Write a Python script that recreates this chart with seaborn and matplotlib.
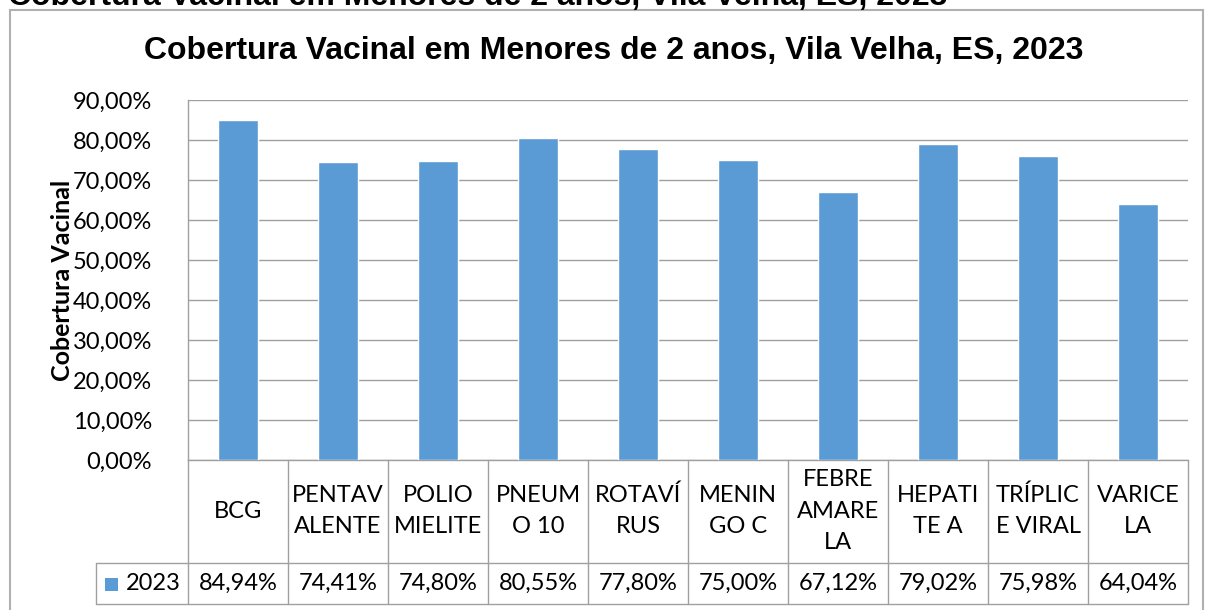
import matplotlib
matplotlib.use("Agg")
import matplotlib.pyplot as plt
import matplotlib.transforms as mtransforms
from matplotlib.patches import Rectangle
from matplotlib.lines import Line2D
import pandas as pd
import seaborn as sns

# data
vacinas = ["BCG", "PENTAV\nALENTE", "POLIO\nMIELITE", "PNEUM\nO 10", "ROTAVÍ\nRUS",
           "MENIN\nGO C", "FEBRE\nAMARE\nLA", "HEPATI\nTE A", "TRÍPLIC\nE VIRAL", "VARICE\nLA"]
cobertura = [84.94, 74.41, 74.80, 80.55, 77.80, 75.00, 67.12, 79.02, 75.98, 64.04]
serie = "2023"
y_ticks = [0, 10, 20, 30, 40, 50, 60, 70, 80, 90]
titulo = "Cobertura Vacinal em Menores de 2 anos, Vila Velha, ES, 2023"
y_label = "Cobertura Vacinal"

W, H = 1205, 610
def fx(px):
    return px / W
def fy(py):
    return 1 - py / H

def pct(v):
    return f"{v:.2f}%".replace(".", ",")

sns.set_theme(style="white")
plt.rcParams["font.family"] = ["Lato", "DejaVu Sans"]
plt.rcParams["text.color"] = "black"
plt.rcParams["axes.labelcolor"] = "black"
plt.rcParams["ytick.color"] = "black"

bar_color = "#5B9BD5"
line_color = "#A0A0A0"
fs = 17

fig = plt.figure(figsize=(W / 100, H / 100), dpi=100)
fig.patch.set_facecolor("white")

# outer chart border
fig.add_artist(Rectangle((fx(10), fy(615)), fx(1203) - fx(10), fy(10) - fy(615),
                         transform=fig.transFigure, fill=False, edgecolor="#B0B0B0", lw=1.5))

# title cut off at the top of the picture
fig.text(fx(8), fy(5), titulo, fontsize=23, fontweight="bold",
         family=["Liberation Sans", "DejaVu Sans"], ha="left", va="baseline")

fig.text(fx(614), fy(51), titulo, fontsize=23, fontweight="bold",
         family=["Liberation Sans", "DejaVu Sans"], ha="center", va="center")

ax = fig.add_axes([fx(188), fy(460), fx(1188) - fx(188), fy(100) - fy(460)])
df = pd.DataFrame({"vacina": vacinas, "cobertura": cobertura})
sns.barplot(data=df, x="vacina", y="cobertura", color=bar_color, saturation=1,
            width=0.4, ax=ax, zorder=3)

ax.set_ylim(0, 90)
ax.set_xlim(-0.5, len(vacinas) - 0.5)
ax.set_yticks(y_ticks)
ax.set_yticklabels([pct(t) for t in y_ticks], fontsize=fs)
ax.set_xticks([])
ax.set_xlabel("")
ax.set_ylabel(y_label, fontsize=18, fontweight="bold")
ax.yaxis.set_label_coords(-0.114, 0.5)
ax.tick_params(axis="y", length=0, pad=26)
ax.grid(axis="y", color=line_color, lw=1, zorder=0)
ax.set_axisbelow(True)
for side in ["top", "right"]:
    ax.spines[side].set_visible(False)
for side in ["left", "bottom"]:
    ax.spines[side].set_color(line_color)
    ax.spines[side].set_linewidth(1)

# data table below the axis
tr = mtransforms.blended_transform_factory(ax.transData, fig.transFigure)
n = len(vacinas)
left_x = -1.42
for i in range(n + 1):
    fig.add_artist(Line2D([i - 0.5, i - 0.5], [fy(460), fy(604)], transform=tr,
                          color=line_color, lw=1))
fig.add_artist(Line2D([left_x, left_x], [fy(563), fy(604)], transform=tr, color=line_color, lw=1))
for yy in [563, 604]:
    fig.add_artist(Line2D([left_x, n - 0.5], [fy(yy), fy(yy)], transform=tr,
                          color=line_color, lw=1))

for i, (nome, v) in enumerate(zip(vacinas, cobertura)):
    fig.text(i, fy(511), nome, transform=tr, ha="center", va="center",
             fontsize=fs, linespacing=1.6)
    fig.text(i, fy(583), pct(v), transform=tr, ha="center", va="center", fontsize=fs)

fig.add_artist(Rectangle((fx(105), fy(591)), fx(13), fy(578) - fy(591),
                         transform=fig.transFigure, color=bar_color, lw=0))
fig.text(fx(126), fy(583), serie, ha="left", va="center", fontsize=fs)

fig.savefig("out.png", dpi=100, facecolor="white")
